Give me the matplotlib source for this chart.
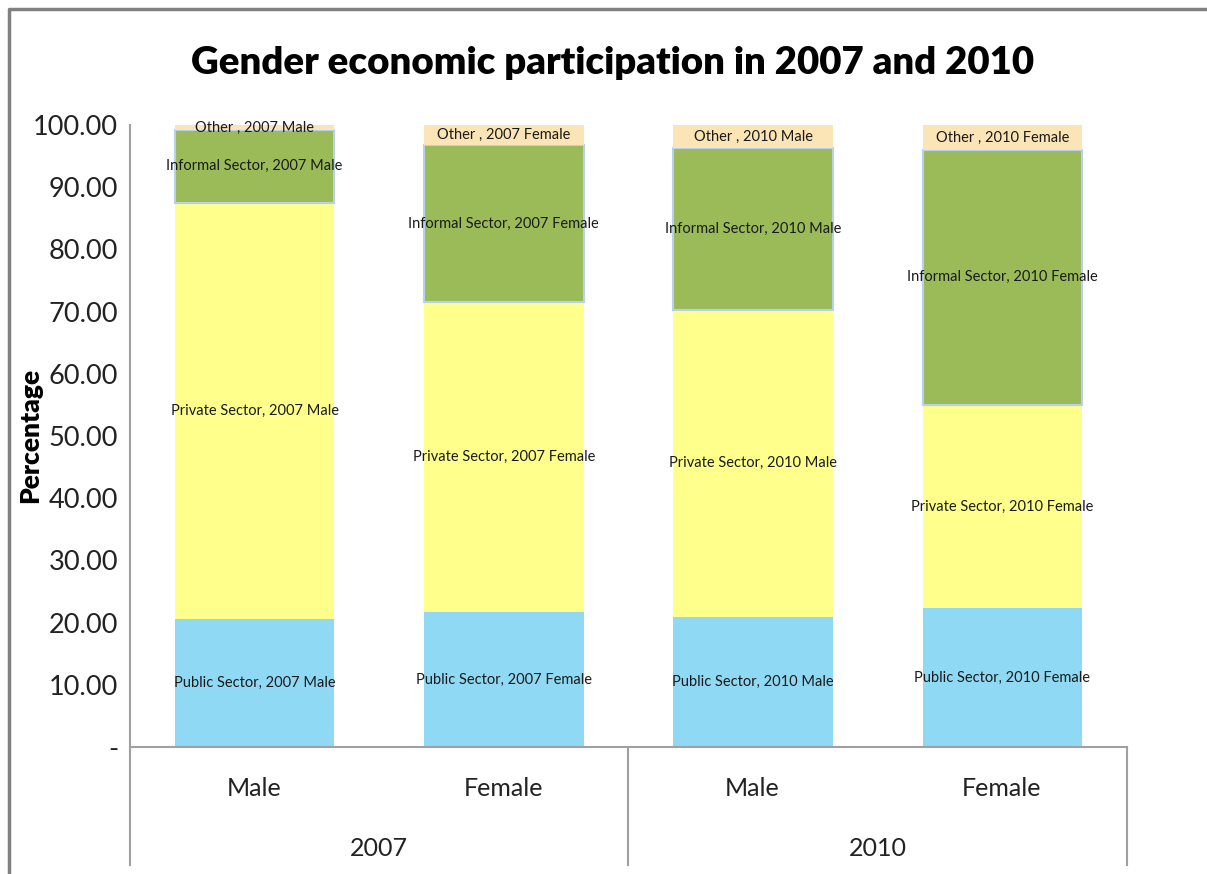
import matplotlib.pyplot as plt
from matplotlib.lines import Line2D

plt.rcParams['font.family'] = ['Lato', 'DejaVu Sans']

# categories and stacked shares (percent)
years = ['2007', '2010']
genders = ['Male', 'Female', 'Male', 'Female']
bar_keys = ['2007 Male', '2007 Female', '2010 Male', '2010 Female']
sectors = ['Public Sector', 'Private Sector', 'Informal Sector', 'Other']
public = [20.6, 21.7, 20.9, 22.3]
private = [66.9, 49.8, 49.4, 32.7]
informal = [11.7, 25.3, 26.0, 41.0]
other = [0.8, 3.2, 3.7, 4.0]
yticks = [0, 10, 20, 30, 40, 50, 60, 70, 80, 90, 100]

colors = ['#8fd9f4', '#ffff8c', '#9bbb59', '#fbe5b6']

W, H = 1207, 874
fig = plt.figure(figsize=(W / 100, H / 100), dpi=100)
ax = fig.add_axes([130 / W, (H - 747) / H, 997 / W, (747 - 125) / H])

x = range(len(bar_keys))
bottom = [0.0] * len(bar_keys)
for name, vals, col in zip(sectors, [public, private, informal, other], colors):
    if name == 'Informal Sector':
        bars = ax.bar(x, vals, 0.64, bottom=bottom, color=col,
                      edgecolor='#b9cfee', linewidth=1.5, zorder=2)
    else:
        bars = ax.bar(x, vals, 0.64, bottom=bottom, color=col,
                      linewidth=0, zorder=2)
    for i, b in enumerate(bars):
        sep = ' , ' if name == 'Other' else ', '
        ax.text(b.get_x() + b.get_width() / 2, bottom[i] + vals[i] / 2,
                name + sep + bar_keys[i], ha='center', va='center',
                fontsize=10.5, color='#1a1a1a', zorder=3)
    bottom = [b0 + v for b0, v in zip(bottom, vals)]

ax.set_xlim(-0.5, 3.5)
ax.set_ylim(0, 100)
ax.set_yticks(yticks)
ax.set_yticklabels(['-' if t == 0 else '%.2f' % t for t in yticks],
                   fontsize=19.5, color='#222222')
ax.tick_params(axis='y', length=0, pad=8.5)
ax.set_xticks([])
for s in ['top', 'right', 'left']:
    ax.spines[s].set_visible(False)
ax.spines['bottom'].set_color('#a0a0a0')
ax.spines['bottom'].set_linewidth(1.5)

# category axis with two label levels
gray = '#a0a0a0'
for px in [130, 628, 1127]:
    top = 125 if px == 130 else 747
    fig.add_artist(Line2D([px / W, px / W], [1 - top / H, 1 - 865 / H],
                          color=gray, lw=1.5))
for i, g in enumerate(genders):
    fig.text((130 + 249 * (i + 0.5)) / W, 1 - 788 / H, g, ha='center',
             va='center', fontsize=18, color='#222222')
for j, yr in enumerate(years):
    fig.text((130 + 498.5 * (j + 0.5)) / W, 1 - 848 / H, yr, ha='center',
             va='center', fontsize=18, color='#222222')

fig.text(30 / W, 1 - 435 / H, 'Percentage', rotation=90, ha='center',
         va='center', fontsize=19, fontweight='heavy')
fig.text(613 / W, 1 - 63 / H, 'Gender economic participation in 2007 and 2010',
         ha='center', va='center', fontsize=27.6, fontweight='heavy')

# outer chart frame (left and top edges)
fig.add_artist(Line2D([9 / W, 9 / W, 1.0], [0.0, 1 - 9 / H, 1 - 9 / H],
                      color='#808080', lw=2.5))

fig.savefig('out.png', dpi=100)
